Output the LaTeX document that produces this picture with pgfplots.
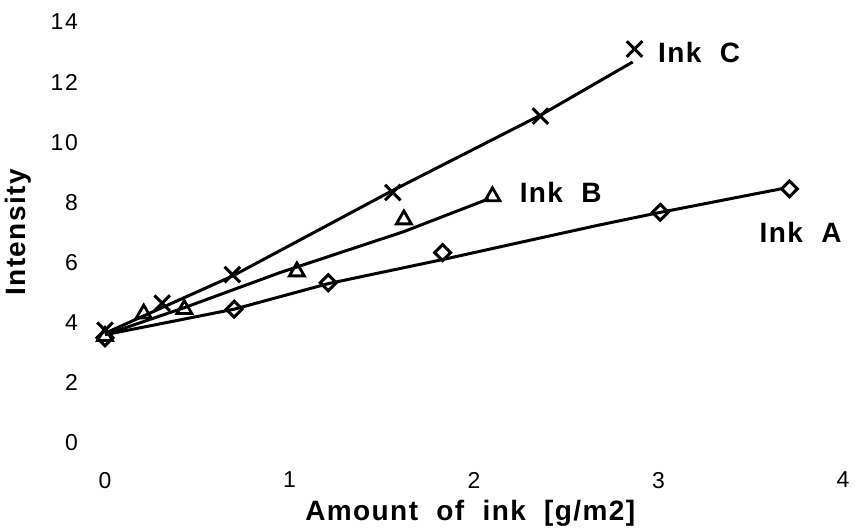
\documentclass[border=0pt]{standalone}
\usepackage{fontspec}
\setmainfont{Liberation Sans}
\newfontfamily\tickfont[LetterSpace=8]{Liberation Sans}
\newfontfamily\labfont[LetterSpace=5,UprightFont={Liberation Sans Bold}]{Liberation Sans}
\usepackage{pgfplots}
\pgfplotsset{compat=1.18}
\begin{document}
\begin{tikzpicture}
\useasboundingbox (-52.5pt,-42.5pt) rectangle (375pt,221.5pt);
\begin{axis}[
  at={(0,0)}, anchor=south west,
  scale only axis, width=369pt, height=210.5pt,
  xmin=0, xmax=4, ymin=0, ymax=14,
  axis line style={draw=none},
  major tick length=0pt,
  xtick={0,1,2,3,4}, ytick={0,2,...,14},
  /pgf/number format/assume math mode=true,
  tick label style={font=\tickfont\fontsize{11.5}{13}\selectfont},
  xticklabel style={yshift=-11pt},
  yticklabel style={xshift=-10pt},
  clip=false,
  xlabel={Amount\ \ of\ \ ink\ \ [g/m2]},
  xlabel style={at={(axis description cs:0.495,0)}, anchor=center, yshift=-35pt, font=\labfont\fontsize{14}{16}\selectfont},
  ylabel={Intensity},
  ylabel style={at={(axis description cs:-0.117,0.5)}, anchor=center, font=\labfont\fontsize{14}{16}\selectfont},
]
% fitted lines
\addplot[black, line width=1.5pt, mark=none] coordinates {(0,3.6) (0.7,4.45) (1.21,5.3) (1.83,6.1) (2.25,6.67) (2.68,7.25) (3.01,7.67) (3.68,8.47)};
\addplot[black, line width=1.5pt, mark=none] coordinates {(0,3.6) (0.43,4.5) (0.95,5.67) (1.62,7.03) (2.08,8.12)};
\addplot[black, line width=1.5pt, mark=none] coordinates {(0,3.65) (0.69,5.55) (1.56,8.4) (2.36,10.9) (2.86,12.67)};
% data points
\addplot[only marks, mark=square, mark size=2.8pt, mark options={black, line width=1.5pt, fill=white, rotate=45}] coordinates {(0,3.5) (0.7,4.45) (1.21,5.33) (1.83,6.33) (3.01,7.67) (3.71,8.45)};
\addplot[only marks, mark=triangle, mark size=4.3pt, mark options={black, line width=1.4pt, fill=white}] coordinates {(0,3.55) (0.21,4.3) (0.43,4.45) (1.04,5.7) (1.62,7.43) (2.1,8.2)};
\addplot[only marks, mark=x, mark size=5.5pt, mark options={black, line width=1.5pt}] coordinates {(0,3.75) (0.31,4.65) (0.69,5.6) (1.56,8.33) (2.36,10.87) (2.87,13.1)};
\node[font=\labfont\fontsize{14}{16}\selectfont] at (axis cs:3.22,12.97) {Ink\ \ C};
\node[font=\labfont\fontsize{14}{16}\selectfont] at (axis cs:2.47,8.35) {Ink\ \ B};
\node[font=\labfont\fontsize{14}{16}\selectfont] at (axis cs:3.77,7.02) {Ink\ \ A};
\end{axis}
\end{tikzpicture}
\end{document}
